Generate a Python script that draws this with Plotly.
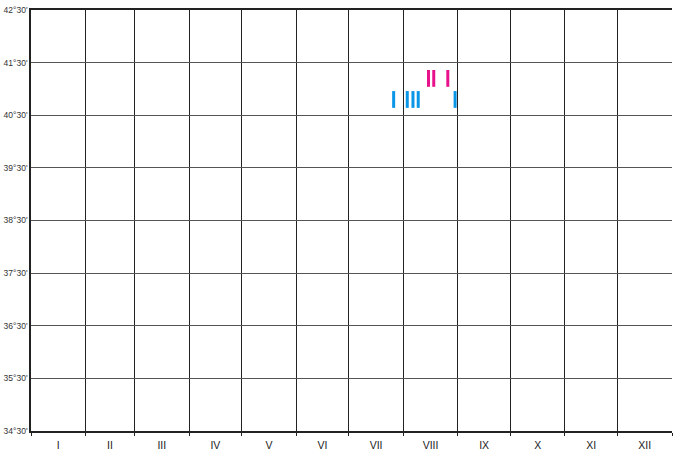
import plotly.graph_objects as go

months = ["I", "II", "III", "IV", "V", "VI", "VII", "VIII", "IX", "X", "XI", "XII"]
month_mid = ["2023-01-16 12:00", "2023-02-15", "2023-03-16 12:00", "2023-04-16", "2023-05-16 12:00",
             "2023-06-16", "2023-07-16 12:00", "2023-08-16 12:00", "2023-09-16", "2023-10-16 12:00",
             "2023-11-16", "2023-12-16 12:00"]

lat_vals = [34.5, 35.5, 36.5, 37.5, 38.5, 39.5, 40.5, 41.5, 42.5]
lat_text = ["34°30'", "35°30'", "36°30'", "37°30'", "38°30'", "39°30'", "40°30'", "41°30'", "42°30'"]

blue_dates = ["2023-07-26 12:00", "2023-08-03 06:00", "2023-08-06 12:00", "2023-08-09 12:00", "2023-08-30 12:00"]
blue_lat = [40.8, 40.8, 40.8, 40.8, 40.8]
pink_dates = ["2023-08-15 08:00", "2023-08-18 08:00", "2023-08-26 08:00"]
pink_lat = [41.2, 41.2, 41.2]

fig = go.Figure()
fig.add_trace(go.Scatter(x=blue_dates, y=blue_lat, mode="markers",
                         marker=dict(symbol="line-ns", size=12, line=dict(width=3, color="#0a96e6")),
                         showlegend=False, hoverinfo="skip"))
fig.add_trace(go.Scatter(x=pink_dates, y=pink_lat, mode="markers",
                         marker=dict(symbol="line-ns", size=12, line=dict(width=3, color="#e8128c")),
                         showlegend=False, hoverinfo="skip"))

fig.update_layout(
    width=673, height=458,
    margin=dict(l=31, r=1, t=10, b=27),
    paper_bgcolor="white", plot_bgcolor="white",
    font=dict(family="Liberation Sans", color="#333"),
    xaxis=dict(type="date", range=["2023-01-01", "2024-01-01"], automargin=False,
               tickvals=month_mid, ticktext=months, showgrid=False, ticks="",
               tickfont=dict(size=10.5, color="#222"), ticklabelstandoff=4,
               showline=True, linecolor="#222", linewidth=1.5, mirror=True,
               zeroline=False,
               minor=dict(dtick="M1", tick0="2023-01-01", showgrid=True, gridcolor="#222",
                          gridwidth=1, ticks="outside", ticklen=3, tickcolor="#222")),
    yaxis=dict(range=[34.5, 42.5], tickvals=lat_vals, ticktext=lat_text, automargin=False,
               showgrid=True, gridcolor="#555", gridwidth=1, ticks="",
               tickfont=dict(size=8.5, color="#333"), ticklabelstandoff=0,
               showline=True, linecolor="#222", linewidth=1.5, zeroline=False),
)

fig.write_html("out.html", config={"displayModeBar": False},
               post_script="document.body.style.margin='0';document.body.style.overflow='hidden';")
